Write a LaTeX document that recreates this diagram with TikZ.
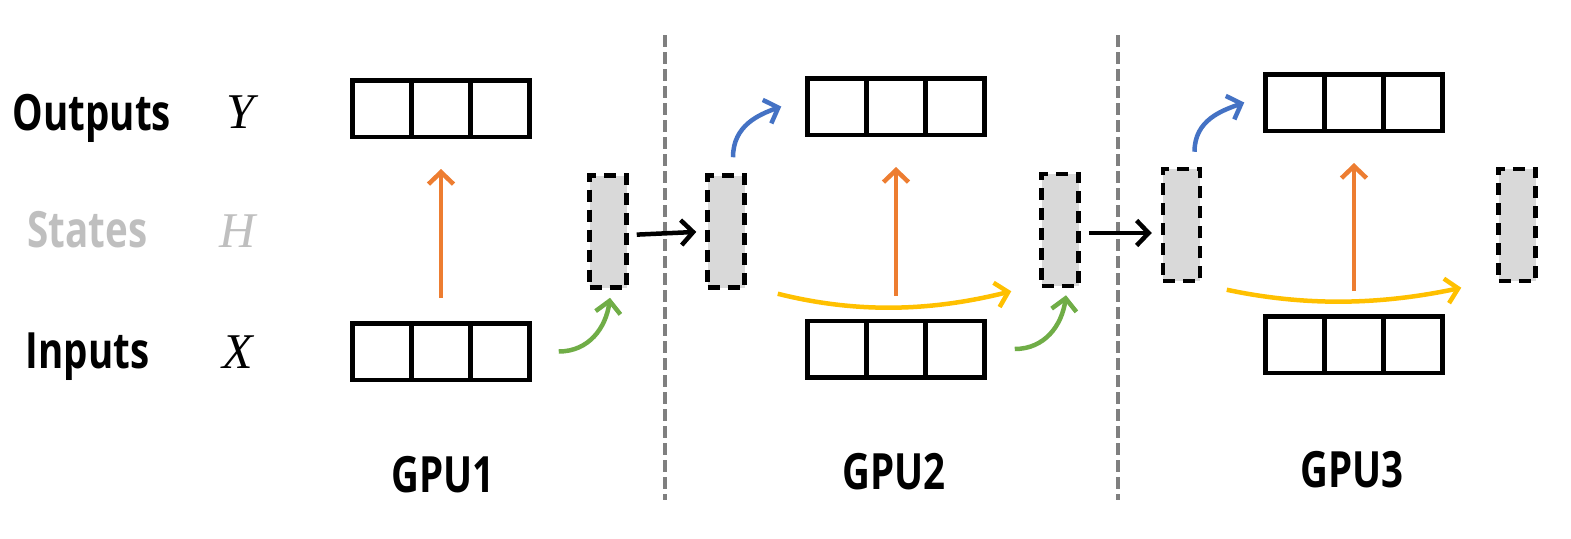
\documentclass[tikz,border=0pt]{standalone}
\usepackage{fontspec}
\newfontfamily\labelfont{Open Sans}[FakeStretch=0.77]
\newfontfamily\varfont{Liberation Serif}
\usetikzlibrary{positioning,arrows.meta}

\definecolor{gpuorange}{HTML}{ED7D31}
\definecolor{gpuyellow}{HTML}{FFC000}
\definecolor{gpugreen}{HTML}{70AD47}
\definecolor{gpublue}{HTML}{4472C4}
\definecolor{stategray}{HTML}{D9D9D9}
\definecolor{labelgray}{HTML}{BFBFBF}
\definecolor{divgray}{HTML}{7F7F7F}

\tikzset{
    cell/.style={draw, line width=4.5pt, minimum width=59pt, minimum height=56.5pt, inner sep=0pt},
    state/.style={draw, fill=stategray, line width=4.5pt, dash pattern=on 12pt off 8pt,
        minimum width=37pt, minimum height=112pt, inner sep=0pt},
    flow/.style={line width=4.5pt, -{Straight Barb[length=12pt,width=25pt]}},
    divider/.style={divgray, line width=4pt, dash pattern=on 12pt off 5pt},
    rowlabel/.style={font=\labelfont\bfseries\fontsize{50}{50}\selectfont, anchor=base},
    varlabel/.style={font=\varfont\itshape\fontsize{50}{50}\selectfont, anchor=base},
}

\begin{document}
\begin{tikzpicture}[x=1pt, y=-1pt]
\useasboundingbox (0,0) rectangle (1571,538);

% row names
\node[rowlabel] (outname) at (92,130) {Outputs};
\node[rowlabel, labelgray] (statename) at (87.5,247) {States};
\node[rowlabel] (inname) at (87.5,368) {Inputs};
\node[varlabel] (yvar) at (240,128) {Y};
\node[varlabel, labelgray] (hvar) at (238,247) {H};
\node[varlabel] (xvar) at (238,368) {X};

% dividers between GPUs
\draw[divider] (665,35) -- (665,500);
\draw[divider] (1118,35) -- (1118,500);

% input / output sequences
\foreach \g/\cx/\oy/\iy in {1/441/108.5/351.5, 2/896/106.5/349, 3/1354/102.5/344.5} {
    \foreach \c/\dx in {a/-59, b/0, c/59} {
        \node[cell] (y\g\c) at (\cx+\dx,\oy) {};
        \node[cell] (x\g\c) at (\cx+\dx,\iy) {};
    }
    \draw[flow, gpuorange, shorten <=23pt, shorten >=30pt] (x\g b.north) -- (y\g b.south);
}

% hidden states
\node[state] (h1r) at (608,231.5) {};
\node[state] (h2l) at (726,231.5) {};
\node[state] (h2r) at (1060,230) {};
\node[state] (h3l) at (1181.5,225) {};
\node[state] (h3r) at (1517,225) {};

% passing the state on
\draw[flow, shorten <=8pt, shorten >=9pt] (h1r.east) ++(0,3.5) -- (h2l.west |- h1r.east);
\draw[flow, shorten <=8pt, shorten >=9pt] (h2r.east) ++(0,3) -- ([yshift=-3pt]h3l.west |- h2r.east);

% inputs into the state
\draw[flow, gpugreen] (x1c.east) ++(27,0) .. controls +(30,0) and +(-4,30) .. ([shift={(2,8)}]h1r.south);
\draw[flow, gpugreen] (x2c.east) ++(28,0) .. controls +(30,0) and +(-4,30) .. ([shift={(6,7)}]h2r.south);

% state to outputs
\draw[flow, gpublue] (h2l.north) ++(7,-16) .. controls +(0,-32) and +(-22,8) .. ([shift={(-24,0)}]y2a.west);
\draw[flow, gpublue] (h3l.north) ++(13,-15) .. controls +(0,-32) and +(-22,8) .. ([shift={(-19,0)}]y3a.west);

% state carried along
\draw[flow, gpuyellow] (h2l.south east) ++(31,4) .. controls +(80,20) and +(-80,20) .. ([shift={(-28,3)}]h2r.south west);
\draw[flow, gpuyellow] (h3l.south east) ++(24.5,6.5) .. controls +(80,17) and +(-80,17) .. ([shift={(-35,4.5)}]h3r.south west);

% device names
\node[rowlabel] (gpu1) at (443,492) {GPU1};
\node[rowlabel] (gpu2) at (894,489) {GPU2};
\node[rowlabel] (gpu3) at (1352,487) {GPU3};
\end{tikzpicture}
\end{document}
